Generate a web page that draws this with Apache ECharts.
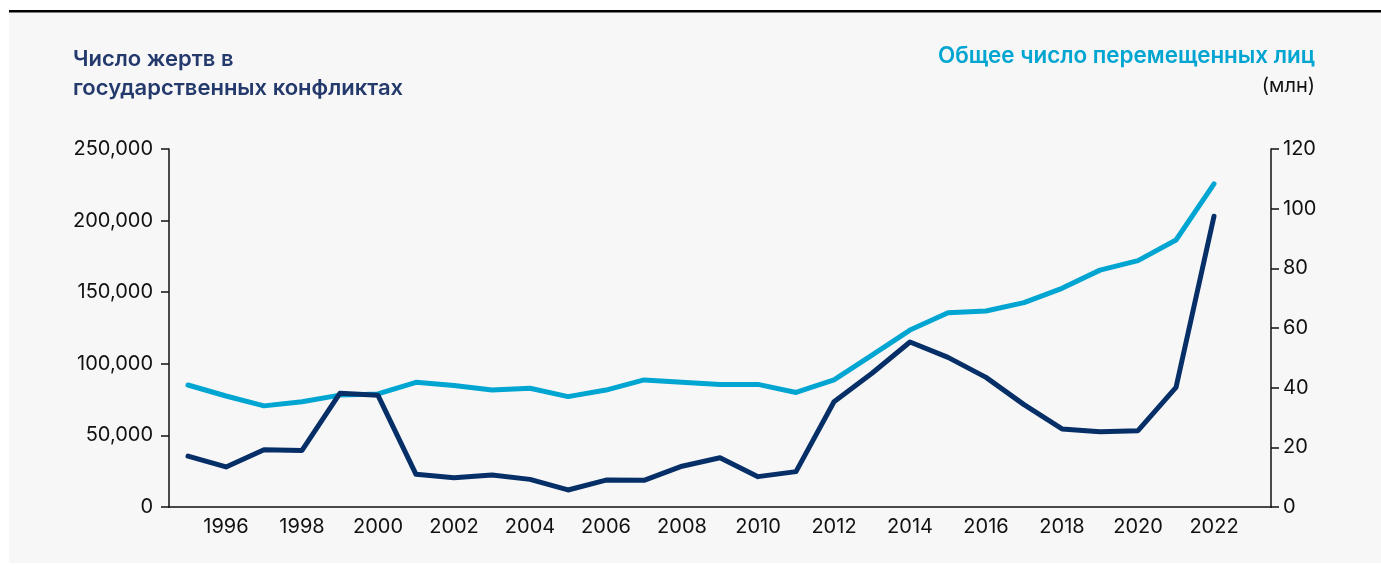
<!DOCTYPE html>
<html>
<head>
<meta charset="utf-8">
<script src="https://cdn.jsdelivr.net/npm/echarts@6/dist/echarts.min.js"></script>
<style>
  html, body { margin: 0; padding: 0; background: #fff; }
  #container { width: 1381px; height: 565px; }
</style>
</head>
<body>
<div id="container"></div>
<script>
var years = ['1995','1996','1997','1998','1999','2000','2001','2002','2003','2004',
             '2005','2006','2007','2008','2009','2010','2011','2012','2013','2014',
             '2015','2016','2017','2018','2019','2020','2021','2022','2023'];

// deaths in state-based conflicts (left axis)
var deaths = [35500, 28000, 40000, 39500, 79500, 78000, 22800, 20500, 22300, 19300,
              11900, 18800, 18600, 28500, 34400, 21200, 24700, 73500, 93400, 115200,
              104500, 90500, 71500, 54500, 52600, 53300, 83500, 203000, null];

// total displaced people, millions (right axis)
var displaced = [40.9, 37.2, 33.9, 35.3, 37.5, 37.9, 41.8, 40.7, 39.2, 39.8,
                 37.0, 39.2, 42.6, 41.8, 41.1, 41.1, 38.4, 42.6, 50.9, 59.3,
                 65.1, 65.7, 68.5, 73.3, 79.4, 82.6, 89.5, 108.3, null];

var navy = '#062f68';
var cyan = '#00a5d1';
var font = 'Inter';

var dom = document.getElementById('container');
var myChart = echarts.init(dom, null, { renderer: 'canvas' });

var option = {
    animation: false,
    backgroundColor: '#ffffff',
    textStyle: { fontFamily: font },
    graphic: [
        {
            type: 'rect',
            shape: { x: 9, y: 12, width: 1372, height: 551 },
            style: { fill: '#f7f7f7' },
            z: -10
        },
        {
            type: 'rect',
            shape: { x: 9, y: 10, width: 1372, height: 2.5 },
            style: { fill: '#000' }
        },
        {
            type: 'text',
            left: 73, top: 45,
            style: {
                text: 'Число жертв в\nгосударственных конфликтах',
                fill: '#253a6c',
                font: '600 22px ' + font,
                lineHeight: 29
            }
        },
        {
            type: 'text',
            right: 66, top: 45,
            style: {
                text: 'Общее число перемещенных лиц',
                fill: cyan,
                font: '600 22.4px ' + font
            }
        },
        {
            type: 'text',
            right: 66, top: 76,
            style: {
                text: '(млн)',
                fill: '#111',
                font: '20px ' + font
            }
        }
    ],
    grid: { left: 169, right: 110, top: 149, bottom: 58 },
    xAxis: {
        type: 'category',
        data: years,
        boundaryGap: true,
        axisLine: { lineStyle: { color: '#111', width: 1.5 } },
        axisTick: { show: false },
        axisLabel: {
            color: '#111',
            fontSize: 20,
            margin: 10,
            interval: function (i) { return i % 2 === 1; }
        }
    },
    yAxis: [
        {
            type: 'value',
            min: 0, max: 250000, interval: 50000,
            splitLine: { show: false },
            axisLine: { show: true, lineStyle: { color: '#111', width: 1.5 } },
            axisTick: { show: true, length: 8, lineStyle: { color: '#111', width: 1.5 } },
            axisLabel: {
                color: '#111', fontSize: 20, margin: 16,
                formatter: function (v) { return v.toLocaleString('en-US'); }
            }
        },
        {
            type: 'value',
            min: 0, max: 120, interval: 20,
            splitLine: { show: false },
            axisLine: { show: true, lineStyle: { color: '#111', width: 1.5 } },
            axisTick: { show: true, length: 8, lineStyle: { color: '#111', width: 1.5 } },
            axisLabel: { color: '#111', fontSize: 20, margin: 12 }
        }
    ],
    series: [
        {
            name: 'Общее число перемещенных лиц',
            type: 'line',
            yAxisIndex: 1,
            data: displaced,
            symbol: 'none',
            lineStyle: { color: cyan, width: 5, cap: 'round', join: 'round' },
            z: 2
        },
        {
            name: 'Число жертв в государственных конфликтах',
            type: 'line',
            yAxisIndex: 0,
            data: deaths,
            symbol: 'none',
            lineStyle: { color: navy, width: 5, cap: 'round', join: 'round' },
            z: 3
        }
    ]
};

myChart.setOption(option);

window.onresize = function () {
    myChart.resize();
};
</script>
</body>
</html>
